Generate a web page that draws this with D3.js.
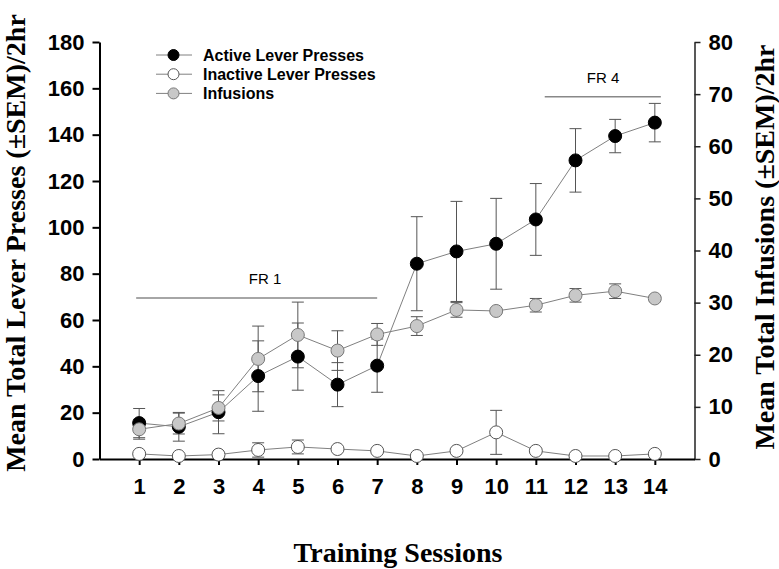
<!DOCTYPE html>
<html>
<head>
<meta charset="utf-8">
<script src="https://cdn.jsdelivr.net/npm/d3@7"></script>
<style>
  html, body { margin: 0; padding: 0; background: #fff; }
  svg { display: block; }
</style>
</head>
<body>
<svg id="chart" width="779" height="569"></svg>
<script>
const sessions = [1,2,3,4,5,6,7,8,9,10,11,12,13,14];
const activePresses = [15.5, 13.9, 20.2, 35.8, 44.2, 32.1, 40.3, 84.3, 89.6, 92.9, 103.4, 128.9, 139.4, 145.2];
const activeSem     = [6.3, 6.2, 9.3, 15.2, 14.5, 9.5, 11.5, 20.3, 21.6, 19.6, 15.5, 13.7, 7.2, 8.3];
const inactivePresses = [2.2, 1.3, 1.9, 3.9, 5.2, 4.3, 3.5, 1.3, 3.5, 11.5, 3.5, 1.3, 1.3, 2.2];
const inactiveSem     = [0.5, 0.5, 0.5, 3.1, 3.0, 1.0, 1.0, 0.5, 1.0, 9.5, 1.0, 0.5, 0.5, 0.5];
const infusions    = [5.7, 6.8, 9.8, 19.2, 23.8, 20.8, 23.9, 25.5, 28.6, 28.4, 29.5, 31.4, 32.2, 30.8];
const infusionsSem = [1.9, 2.0, 2.5, 6.3, 6.3, 3.8, 2.1, 1.8, 1.4, 0.5, 1.3, 1.3, 1.4, 0.5];
const leftTicks  = [0,20,40,60,80,100,120,140,160,180];
const rightTicks = [0,10,20,30,40,50,60,70,80];
const seriesNames = ["Active Lever Presses", "Inactive Lever Presses", "Infusions"];
const phases = [{label: "FR 1", from: 1, to: 7}, {label: "FR 4", from: 11.3, to: 14}];

const svg = d3.select("#chart");
const x  = d3.scaleLinear().domain([0, 15]).range([99.5, 694.5]);
const yL = d3.scaleLinear().domain([0, 180]).range([459, 42]);
const yR = d3.scaleLinear().domain([0, 80]).range([459, 42]);

const tickFont = "bold 22px 'Liberation Sans', Arial, sans-serif";
const titleFont = "bold 28px 'Liberation Serif', 'Times New Roman', serif";

// Axes
const gL = svg.append("g").attr("transform", "translate(99.5,0)")
  .call(d3.axisLeft(yL).tickValues(leftTicks).tickSize(7).tickPadding(8).tickSizeOuter(0));
const gR = svg.append("g").attr("transform", "translate(694.5,0)")
  .call(d3.axisRight(yR).tickValues(rightTicks).tickSize(6).tickPadding(8).tickSizeOuter(0));
const gX = svg.append("g").attr("transform", "translate(0,459)")
  .call(d3.axisBottom(x).tickValues(sessions).tickSize(6).tickPadding(13).tickSizeOuter(0));

[gL, gX].forEach(g => {
  g.select(".domain").attr("stroke", "#000").attr("stroke-width", 2);
  g.selectAll(".tick line").attr("stroke", "#000").attr("stroke-width", 2);
});
gR.select(".domain").attr("stroke", "#222").attr("stroke-width", 1.5);
gR.selectAll(".tick line").attr("stroke", "#222").attr("stroke-width", 1.5);
[gL, gR, gX].forEach(g => {
  g.selectAll(".tick text").style("font", tickFont).attr("fill", "#000");
});

// Axis titles
svg.append("text")
  .attr("transform", "translate(25,243) rotate(-90)")
  .attr("text-anchor", "middle")
  .style("font", titleFont)
  .text("Mean Total Lever Presses (±SEM)/2hr");
svg.append("text")
  .attr("transform", "translate(774,247) rotate(-90)")
  .attr("text-anchor", "middle")
  .style("font", titleFont)
  .text("Mean Total Infusions (±SEM)/2hr");
svg.append("text")
  .attr("x", 398).attr("y", 562)
  .attr("text-anchor", "middle")
  .style("font", titleFont)
  .text("Training Sessions");

// Phase labels
const phaseG = svg.append("g");
phases.forEach((p, i) => {
  const y = i === 0 ? yL(69.5) : yL(156.4);
  phaseG.append("line")
    .attr("x1", x(p.from) - 3).attr("x2", x(p.to) + (i === 0 ? 0 : 6))
    .attr("y1", y).attr("y2", y)
    .attr("stroke", "#888").attr("stroke-width", 1.5);
  phaseG.append("text")
    .attr("x", i === 0 ? 265 : 603).attr("y", y - 13.5)
    .attr("text-anchor", "middle")
    .style("font", "15px 'Liberation Sans', Arial, sans-serif")
    .attr("fill", "#000")
    .text(p.label);
});

// Series definitions
const series = [
  {name: seriesNames[1], vals: inactivePresses, sem: inactiveSem, y: yL, fill: "#fff", stroke: "#555"},
  {name: seriesNames[0], vals: activePresses, sem: activeSem, y: yL, fill: "#000", stroke: "#000"},
  {name: seriesNames[2], vals: infusions, sem: infusionsSem, y: yR, fill: "#c8c8c8", stroke: "#777"}
];

// error bars
series.forEach(s => {
  const g = svg.append("g");
  sessions.forEach((d, i) => {
    const cx = x(d), top = s.y(s.vals[i] + s.sem[i]), bot = s.y(s.vals[i] - s.sem[i]);
    g.append("line").attr("x1", cx).attr("x2", cx).attr("y1", top).attr("y2", bot)
      .attr("stroke", "#555").attr("stroke-width", 1);
    [top, bot].forEach(yy => g.append("line").attr("x1", cx - 6).attr("x2", cx + 6)
      .attr("y1", yy).attr("y2", yy).attr("stroke", "#555").attr("stroke-width", 1));
  });
});

// lines + markers
series.forEach(s => {
  const line = d3.line().x((d, i) => x(sessions[i])).y(d => s.y(d));
  svg.append("path").datum(s.vals).attr("d", line)
    .attr("fill", "none").attr("stroke", "#808080").attr("stroke-width", 1);
});
series.forEach(s => {
  svg.append("g").selectAll("circle").data(s.vals).join("circle")
    .attr("cx", (d, i) => x(sessions[i])).attr("cy", d => s.y(d))
    .attr("r", 6.5).attr("fill", s.fill).attr("stroke", s.stroke).attr("stroke-width", 1);
});

// Legend
const legend = svg.append("g");
const legendOrder = [series[1], series[0], series[2]];
legendOrder.forEach((s, i) => {
  const cy = 55 + i * 19.2;
  legend.append("line").attr("x1", 156).attr("x2", 192).attr("y1", cy).attr("y2", cy)
    .attr("stroke", "#808080").attr("stroke-width", 1);
  legend.append("circle").attr("cx", 173.5).attr("cy", cy).attr("r", 5.5)
    .attr("fill", s.fill).attr("stroke", s.stroke).attr("stroke-width", 1);
  legend.append("text").attr("x", 203).attr("y", cy + 5.5)
    .style("font", "bold 16px 'Liberation Sans', Arial, sans-serif")
    .text(s.name);
});
</script>
</body>
</html>
